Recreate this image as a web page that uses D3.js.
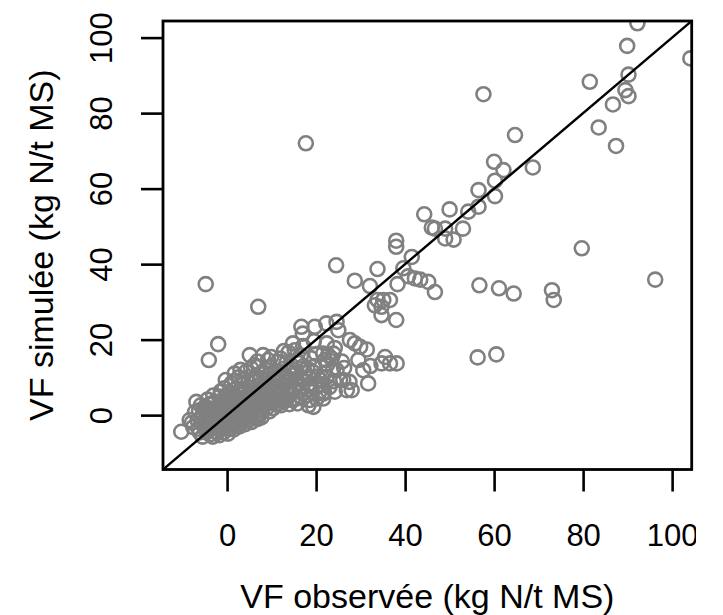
<!DOCTYPE html>
<html>
<head>
<meta charset="utf-8">
<script src="https://cdn.jsdelivr.net/npm/d3@7/dist/d3.min.js"></script>
<style>
  body { margin: 0; background: #fff; }
  #graph { width: 723px; height: 615px; }
  text { font-family: "Liberation Sans", Arial, sans-serif; fill: #000; }
</style>
</head>
<body>
<div id="graph"></div>
<script>
// tick labels
var xTicks = [0, 20, 40, 60, 80, 100];
var yTicks = [0, 20, 40, 60, 80, 100];

var clusterPts = [
  [-10.3,-4.4],[-8.4,-1.3],[-7.6,-3.2],[-6.9,3.5],[-7.2,0.8],
  [-6.1,-4.6],[-5.8,-2.1],[-5.5,-5.7],[-6.3,1.2],[-5.4,0.3],[-5.9,2.6],
  [-4.8,-3.9],[-4.2,-1.5],[-4.6,0.9],[-4.0,2.8],[-3.9,-5.1],[-4.4,4.1],[-3.6,-0.2],
  [-3.2,-5.7],[-3.0,-3.3],[-2.8,-1.1],[-3.4,1.7],[-2.7,3.6],[-3.1,5.2],[-2.5,0.5],
  [-1.7,-5.3],[-1.9,-2.6],[-2.2,-0.4],[-1.7,4.9],[-2.0,2.2],[-1.4,6.3],[-1.6,-4.0],
  [-0.6,7.1],[-0.8,-4.6],[-0.5,-2.0],[-0.3,0.8],[-0.9,3.1],[-0.2,5.0],[-0.7,-0.9],
  [0.4,-3.5],[0.6,-1.2],[0.3,1.9],[0.8,3.8],[0.5,6.1],[1.0,8.4],[0.2,-4.9],[0.9,-0.1],
  [1.7,11.0],[1.5,-3.8],[1.9,-1.7],[1.4,0.6],[2.0,2.5],[1.6,4.6],[2.2,7.0],[1.8,9.1],
  [2.8,-3.0],[3.1,-0.6],[2.9,1.4],[3.3,3.3],[2.7,5.5],[3.4,8.2],[3.0,-1.9],[2.6,10.0],
  [4.3,11.5],[4.1,-2.4],[4.5,-0.2],[4.0,2.0],[4.6,4.1],[4.2,6.3],[4.8,8.9],[3.9,0.9],
  [5.1,15.9],[5.5,-1.8],[5.3,0.5],[5.8,2.6],[5.6,4.7],[5.2,7.2],[5.9,9.6],[5.4,12.4],
  [6.9,-1.0],[6.6,1.1],[7.0,3.3],[6.7,5.6],[7.2,7.9],[6.5,10.3],[7.1,12.8],[6.8,14.2],
  [7.3,0.4],[8.1,15.9],[8.0,2.2],[8.3,4.4],[7.8,6.8],[8.4,9.1],[8.0,11.4],[7.7,-0.6],
  [9.2,14.6],[9.5,1.0],[9.1,3.3],[9.6,5.6],[9.0,8.0],[9.4,10.5],[9.7,12.7],[9.9,15.4],
  [10.3,1.8],[10.8,4.0],[10.5,6.3],[11.0,8.7],[10.6,11.2],[11.4,14.1],[10.9,2.9],
  [12.1,2.6],[12.5,5.2],[11.9,7.4],[12.3,9.8],[12.7,12.3],[12.0,15.0],[12.4,3.8],[12.8,17.0],
  [13.3,4.0],[13.7,6.4],[13.5,8.9],[13.9,11.5],[13.4,14.0],[13.8,16.6],[14.0,2.9],
  [14.8,19.0],[15.5,4.4],[15.1,6.9],[15.3,9.4],[14.9,12.1],[15.6,14.6],[15.2,17.2],[15.8,3.1],
  [16.7,23.4],[17.0,21.6],[16.5,5.0],[16.9,7.6],[16.4,10.3],[17.2,13.0],[16.6,15.8],[17.1,18.3],
  [18.5,4.0],[18.2,6.8],[18.6,9.7],[18.0,12.4],[18.8,15.1],[18.3,2.6],
  [19.7,23.4],[19.4,2.2],[20.1,4.4],[19.9,7.3],[20.3,10.2],[19.6,13.0],[20.0,16.2],[19.5,19.6],
  [21.6,4.4],[21.6,16.3],[22.7,15.9],[23.5,15.0],[22.3,24.3],[21.3,8.2],[22.0,11.3],[21.8,6.2],[22.5,13.4],
  [22.4,19.0],[23.9,16.3],[22.0,14.6],[24.6,11.9],[22.4,10.1],[25.4,9.3],[21.6,5.7],[24.2,6.2],
  [24.6,24.7],[25.0,22.5],[24.0,9.0],[23.8,12.1],[24.2,17.8],
  [26.1,9.3],[26.9,6.6],[26.3,12.5],[25.8,14.2],
  [28.7,19.0],[29.9,18.1],[31.4,17.4],[29.5,14.6],[30.6,11.9],[31.7,8.4],[28.0,6.6],[27.5,8.8],[32.2,13.0],[27.6,19.9],
  [-5.1,-3.0],[-4.5,-4.4],[-3.7,-2.4],[-2.4,-4.5],[-2.9,-0.3],[-1.2,-3.1],[-1.0,1.4],[-0.1,-2.7],
  [0.0,3.4],[0.7,-2.4],[1.2,2.1],[1.1,5.3],[2.4,-2.6],[2.3,0.3],[2.5,3.9],[3.6,-1.2],[3.5,5.9],
  [3.7,2.5],[4.9,-1.1],[4.7,1.4],[5.0,5.8],[6.1,-0.4],[6.2,2.0],[6.0,6.6],[6.3,8.7],[7.5,3.9],
  [7.4,9.8],[8.7,2.9],[8.8,6.3],[8.6,12.0],[9.8,4.5],[10.1,9.6],[11.3,5.4],[11.6,10.4],[12.9,7.9],
  [14.3,5.6],[14.5,10.6],[16.1,8.4],[16.0,13.8],[17.6,11.1],[-6.6,-1.4],[-5.2,1.9],[-3.3,0.2],
  [-1.3,2.4],[0.1,-0.5],[1.3,-2.6],[2.1,1.2],[3.2,6.8],[4.4,3.0],[5.7,3.5],
  [-5.7,-0.8],[-4.9,1.6],[-4.1,-3.0],[-3.5,3.0],[-2.6,-2.0],[-2.3,1.2],[-1.8,0.4],[-1.1,-1.6],
  [-0.4,2.3],[0.2,4.4],[0.9,1.0],[1.6,-0.8],[1.9,3.6],[2.6,-1.1],[2.9,2.6],[3.5,0.1],[3.8,4.6],
  [4.4,-1.3],[4.9,3.0],[5.4,1.6],[5.9,5.3],[6.4,-0.9],[6.9,2.4],[7.4,5.0],[7.9,1.3],[8.5,7.6],
  [9.1,2.1],[9.6,6.9],[10.2,3.3],[10.9,7.4],[11.5,3.1],[12.1,6.3],[12.8,4.6],[13.4,10.1],[14.1,7.8],
  [14.7,4.0],[15.4,11.3],[16.2,6.2],[17.0,9.2],[17.8,5.2],[18.7,8.3],[19.3,11.4],[20.6,5.8],
  [21.0,9.3],[23.0,7.4],[-7.9,-2.0],[-6.4,-3.6],[-0.3,9.3],[3.0,12.0],[6.1,13.2]
];

var midPts = [
  [-4.8,34.7],[7.0,28.7],[-2.0,18.8],[-4.1,14.6],[17.7,72.0],
  [38.0,46.2],[38.0,44.6],[41.5,41.9],[24.5,39.7],[33.8,38.7],[39.6,38.9],
  [40.7,36.8],[42.2,36.2],[43.4,35.9],[45.2,35.3],[46.7,32.6],[38.3,34.7],
  [28.7,35.6],[32.1,34.2],[33.8,30.5],[35.1,30.5],[36.6,30.5],[33.2,29.1],[34.7,28.7],
  [34.7,26.5],[38.0,25.2],[35.5,15.4],[36.6,13.7],[38.1,13.7],[34.7,13.7]
];

var highPts = [
  [92.2,103.8],[89.9,97.8],[104.1,94.5],[81.5,88.3],[90.2,90.2],[89.5,86.1],[90.2,84.5],
  [86.7,82.3],[83.5,76.2],[87.4,71.3],[57.6,85.0],[64.7,74.2],[68.7,65.6],[60.0,67.1],
  [62.1,64.9],[60.2,62.1],[56.5,59.6],[60.2,58.0],[56.5,55.2],[54.2,53.9],[50.0,54.5],
  [44.3,53.2],[46.0,49.7],[46.7,49.4],[49.0,49.4],[53.0,49.4],[49.0,46.8],[50.9,46.5]
];

var lowRightPts = [
  [79.7,44.2],[96.2,35.9],[56.7,34.4],[61.1,33.6],[64.4,32.2],[73.0,33.1],[73.4,30.5],
  [56.3,15.3],[60.5,16.1]
];

var width = 723, height = 615;
var margin = { top: 21, left: 163, bottom: 145.5, right: 31.3 };
var chartWidth = width - margin.left - margin.right;
var chartHeight = height - margin.top - margin.bottom;
var lim = [-14.4, 104.4];

var svg = d3.select("#graph").append("svg").attr("width", width).attr("height", height);
var xScale = d3.scaleLinear().domain(lim).range([0, chartWidth]);
var yScale = d3.scaleLinear().domain(lim).range([chartHeight, 0]);

svg.append("clipPath").attr("id", "plotClip")
  .append("rect").attr("width", chartWidth).attr("height", chartHeight);
svg.append("clipPath").attr("id", "figClip")
  .append("rect").attr("width", 696).attr("height", height);

var chartLayer = svg.append("g")
  .attr("transform", "translate(" + [margin.left, margin.top] + ")");

renderAxis();
renderChart(clusterPts.concat(midPts, highPts, lowRightPts));

function renderChart(data) {
  var plot = chartLayer.append("g").attr("clip-path", "url(#plotClip)");

  plot.selectAll(".point").data(data).enter()
    .append("circle")
    .classed("point", true)
    .attr("cx", function(d) { return xScale(d[0]); })
    .attr("cy", function(d) { return yScale(d[1]); })
    .attr("r", 7)
    .attr("fill", "none")
    .attr("stroke", "#808080")
    .attr("stroke-width", 2.6);

  // 1:1 line
  plot.append("line")
    .attr("x1", xScale(lim[0])).attr("y1", yScale(lim[0]))
    .attr("x2", xScale(lim[1])).attr("y2", yScale(lim[1]))
    .attr("stroke", "#000").attr("stroke-width", 2.4);

  chartLayer.append("rect")
    .attr("width", chartWidth).attr("height", chartHeight)
    .attr("fill", "none").attr("stroke", "#000").attr("stroke-width", 2.8);
}

function renderAxis() {
  var xAxis = svg.append("g").attr("clip-path", "url(#figClip)")
    .append("g")
    .attr("transform", "translate(" + [margin.left, margin.top + chartHeight] + ")")
    .call(d3.axisBottom(xScale).tickValues(xTicks).tickSize(22).tickSizeOuter(0));
  xAxis.select(".domain").remove();
  xAxis.selectAll("line").attr("stroke-width", 2.6);
  xAxis.selectAll("text")
    .attr("y", 76).attr("dy", null)
    .style("font-size", "31px")
    .style("font-family", "'Liberation Sans', Arial, sans-serif");

  var yAxis = svg.append("g")
    .attr("transform", "translate(" + [margin.left, margin.top] + ")")
    .call(d3.axisLeft(yScale).tickValues(yTicks).tickSize(22).tickSizeOuter(0));
  yAxis.select(".domain").remove();
  yAxis.selectAll("line").attr("stroke-width", 2.6);
  yAxis.selectAll("text")
    .attr("transform", "rotate(-90)")
    .attr("x", 0).attr("y", -51.5).attr("dy", null)
    .attr("text-anchor", "middle")
    .style("font-size", "31px")
    .style("font-family", "'Liberation Sans', Arial, sans-serif");

  svg.append("text")
    .attr("x", margin.left + chartWidth / 2).attr("y", 607.5)
    .attr("text-anchor", "middle")
    .style("font-size", "34px")
    .text("VF observée (kg N/t MS)");

  svg.append("text")
    .attr("transform", "translate(" + [53, margin.top + chartHeight / 2] + ") rotate(-90)")
    .attr("text-anchor", "middle")
    .style("font-size", "34px")
    .text("VF simulée (kg N/t MS)");
}
</script>
</body>
</html>
